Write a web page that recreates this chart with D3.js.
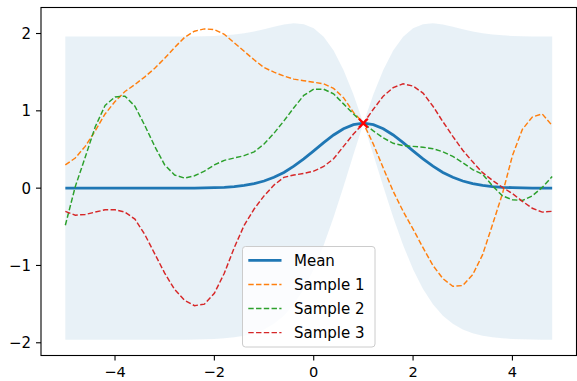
<!DOCTYPE html>
<html>
<head>
<meta charset="utf-8">
<script src="https://cdn.jsdelivr.net/npm/d3@7"></script>
<style>
  body { margin: 0; background: #fff; }
  svg { display: block; }
</style>
</head>
<body>
<svg id="chart" width="577" height="381"></svg>
<script>
// grid of inputs (x from -5 to 4.8, step 0.2)
const xValues = [-5.0, -4.8, -4.6, -4.4, -4.2, -4.0, -3.8, -3.6, -3.4, -3.2,
  -3.0, -2.8, -2.6, -2.4, -2.2, -2.0, -1.8, -1.6, -1.4, -1.2,
  -1.0, -0.8, -0.6, -0.4, -0.2, 0.0, 0.2, 0.4, 0.6, 0.8,
  1.0, 1.2, 1.4, 1.6, 1.8, 2.0, 2.2, 2.4, 2.6, 2.8,
  3.0, 3.2, 3.4, 3.6, 3.8, 4.0, 4.2, 4.4, 4.6, 4.8]

const meanValues = [0, 0, 0, 0, 0, 0, 0, 0, 0, 0,
  0, 0.0003, 0.0006, 0.0014, 0.003, 0.006, 0.011, 0.020, 0.035, 0.058,
  0.092, 0.140, 0.203, 0.284, 0.378, 0.483, 0.589, 0.688, 0.769, 0.822,
  0.840, 0.822, 0.769, 0.688, 0.589, 0.483, 0.378, 0.284, 0.203, 0.140,
  0.092, 0.058, 0.035, 0.020, 0.011, 0.006, 0.003, 0.0014, 0.0006, 0.0003]

const upperValues = [1.96, 1.96, 1.96, 1.96, 1.96, 1.96, 1.96, 1.96, 1.96, 1.96,
  1.96, 1.96, 1.96, 1.963, 1.965, 1.969, 1.976, 1.988, 2.004, 2.027,
  2.056, 2.087, 2.116, 2.132, 2.121, 2.068, 1.958, 1.779, 1.529, 1.212,
  0.84, 1.212, 1.529, 1.779, 1.958, 2.068, 2.121, 2.132, 2.116, 2.087,
  2.056, 2.027, 2.004, 1.988, 1.976, 1.969, 1.965, 1.963, 1.96, 1.96]

const lowerValues = [-1.96, -1.96, -1.96, -1.96, -1.96, -1.96, -1.96, -1.96, -1.96, -1.96,
  -1.96, -1.96, -1.96, -1.957, -1.955, -1.951, -1.943, -1.930, -1.910, -1.878,
  -1.828, -1.755, -1.649, -1.501, -1.303, -1.049, -0.738, -0.376, 0.022, 0.435,
  0.84, 0.435, 0.022, -0.376, -0.738, -1.049, -1.303, -1.501, -1.649, -1.755,
  -1.828, -1.878, -1.910, -1.930, -1.943, -1.951, -1.955, -1.957, -1.96, -1.96]

const sample1 = [0.30, 0.39, 0.54, 0.74, 0.96, 1.12, 1.25, 1.34, 1.44, 1.55,
  1.68, 1.82, 1.95, 2.03, 2.06, 2.05, 1.99, 1.88, 1.77, 1.66,
  1.56, 1.50, 1.45, 1.41, 1.39, 1.37, 1.35, 1.29, 1.17, 0.98,
  0.84, 0.57, 0.26, -0.04, -0.30, -0.53, -0.77, -1.00, -1.17, -1.27,
  -1.26, -1.12, -0.86, -0.47, -0.07, 0.42, 0.76, 0.92, 0.96, 0.81]

const sample2 = [-0.48, 0.02, 0.40, 0.79, 1.07, 1.18, 1.19, 1.06, 0.81, 0.54,
  0.30, 0.17, 0.13, 0.16, 0.22, 0.30, 0.36, 0.39, 0.42, 0.47,
  0.57, 0.71, 0.87, 1.04, 1.20, 1.28, 1.28, 1.22, 1.09, 0.96,
  0.84, 0.74, 0.65, 0.58, 0.55, 0.54, 0.53, 0.51, 0.47, 0.41,
  0.33, 0.24, 0.18, 0.03, -0.10, -0.15, -0.16, -0.10, 0.01, 0.15]

const sample3 = [-0.30, -0.35, -0.34, -0.31, -0.28, -0.28, -0.31, -0.40, -0.60, -0.85,
  -1.10, -1.31, -1.45, -1.52, -1.50, -1.36, -1.10, -0.77, -0.48, -0.27,
  -0.10, 0.04, 0.14, 0.17, 0.19, 0.22, 0.28, 0.38, 0.54, 0.70,
  0.84, 1.02, 1.19, 1.30, 1.35, 1.32, 1.23, 1.06, 0.86, 0.67,
  0.49, 0.34, 0.20, 0.10, 0.01, -0.07, -0.17, -0.26, -0.31, -0.30]

const observedX = [1.0]
const observedY = [0.84]

const xTicks = [-4, -2, 0, 2, 4]
const yTicks = [-2, -1, 0, 1, 2]
const seriesNames = ['Mean', 'Sample 1', 'Sample 2', 'Sample 3']

const FONT = 'DejaVu Sans, sans-serif'
const FS = 15
const colors = { mean: '#1f77b4', s1: '#ff7f0e', s2: '#2ca02c', s3: '#d62728' }

const box = { left: 41, right: 576.5, top: 7.5, bottom: 355.5 }

const svg = d3.select('#chart')
svg.append('rect').attr('width', 577).attr('height', 381).attr('fill', '#fff')

const x = d3.scaleLinear().domain([-5.49, 5.29]).range([box.left, box.right])
const y = d3.scaleLinear().domain([-2.1645, 2.3365]).range([box.bottom, box.top])

const fmt = v => (v < 0 ? '\u2212' + Math.abs(v) : String(v))

// band
const area = d3.area()
  .x((d, i) => x(xValues[i]))
  .y0((d, i) => y(lowerValues[i]))
  .y1((d, i) => y(upperValues[i]))
svg.append('path')
  .datum(xValues)
  .attr('d', area)
  .attr('fill', colors.mean)
  .attr('fill-opacity', 0.1)

const line = vals => d3.line()
  .x((d, i) => x(xValues[i]))
  .y((d, i) => y(vals[i]))(xValues)

const series = [
  { name: seriesNames[0], vals: meanValues, color: colors.mean, width: 2.8, dash: null },
  { name: seriesNames[1], vals: sample1, color: colors.s1, width: 1.45, dash: '5.4,2.35' },
  { name: seriesNames[2], vals: sample2, color: colors.s2, width: 1.45, dash: '5.4,2.35' },
  { name: seriesNames[3], vals: sample3, color: colors.s3, width: 1.45, dash: '5.4,2.35' },
]

series.forEach(s => {
  svg.append('path')
    .attr('d', line(s.vals))
    .attr('fill', 'none')
    .attr('stroke', s.color)
    .attr('stroke-width', s.width)
    .attr('stroke-dasharray', s.dash)
})

// observed point, drawn as an x marker
const mk = 4.4
observedX.forEach((ox, i) => {
  const cx = x(ox), cy = y(observedY[i])
  svg.append('path')
    .attr('d', `M${cx - mk},${cy - mk}L${cx + mk},${cy + mk}M${cx - mk},${cy + mk}L${cx + mk},${cy - mk}`)
    .attr('stroke', '#ff0000')
    .attr('stroke-width', 2.2)
    .attr('fill', 'none')
})

// spines
const spine = svg.append('g').attr('stroke', '#000').attr('stroke-width', 1.1).attr('fill', 'none')
spine.append('rect')
  .attr('x', box.left).attr('y', box.top)
  .attr('width', box.right - box.left).attr('height', box.bottom - box.top)

// x ticks
const gx = svg.append('g')
xTicks.forEach(t => {
  gx.append('line').attr('x1', x(t)).attr('x2', x(t))
    .attr('y1', box.bottom).attr('y2', box.bottom + 5)
    .attr('stroke', '#000').attr('stroke-width', 1.1)
  gx.append('text').attr('x', x(t)).attr('y', 377.3)
    .attr('text-anchor', 'middle')
    .attr('font-family', FONT).attr('font-size', 14.6).attr('fill', '#000')
    .text(fmt(t))
})

// y ticks
const gy = svg.append('g')
yTicks.forEach(t => {
  gy.append('line').attr('x1', box.left - 5).attr('x2', box.left)
    .attr('y1', y(t)).attr('y2', y(t))
    .attr('stroke', '#000').attr('stroke-width', 1.1)
  gy.append('text').attr('x', box.left - 10).attr('y', y(t))
    .attr('dy', '0.36em')
    .attr('text-anchor', 'end')
    .attr('font-family', FONT).attr('font-size', FS).attr('fill', '#000')
    .text(fmt(t))
})

// legend (lower center)
const lgW = 132.5, lgH = 100.5
const lgX = (box.left + box.right) / 2 - lgW / 2
const lgY = box.bottom - 8.5 - lgH
const lg = svg.append('g').attr('transform', `translate(${lgX},${lgY})`)
lg.append('rect')
  .attr('width', lgW).attr('height', lgH)
  .attr('rx', 3).attr('ry', 3)
  .attr('fill', '#fff').attr('fill-opacity', 0.8)
  .attr('stroke', '#cccccc').attr('stroke-width', 1)
series.forEach((s, i) => {
  const ry = 13.8 + i * 24.1
  lg.append('line')
    .attr('x1', 5.8).attr('x2', 39)
    .attr('y1', ry).attr('y2', ry)
    .attr('stroke', s.color)
    .attr('stroke-width', s.width)
    .attr('stroke-dasharray', s.dash)
  lg.append('text')
    .attr('x', 51.5).attr('y', ry).attr('dy', '0.36em')
    .attr('font-family', FONT).attr('font-size', FS).attr('fill', '#000')
    .text(s.name)
})
</script>
</body>
</html>
